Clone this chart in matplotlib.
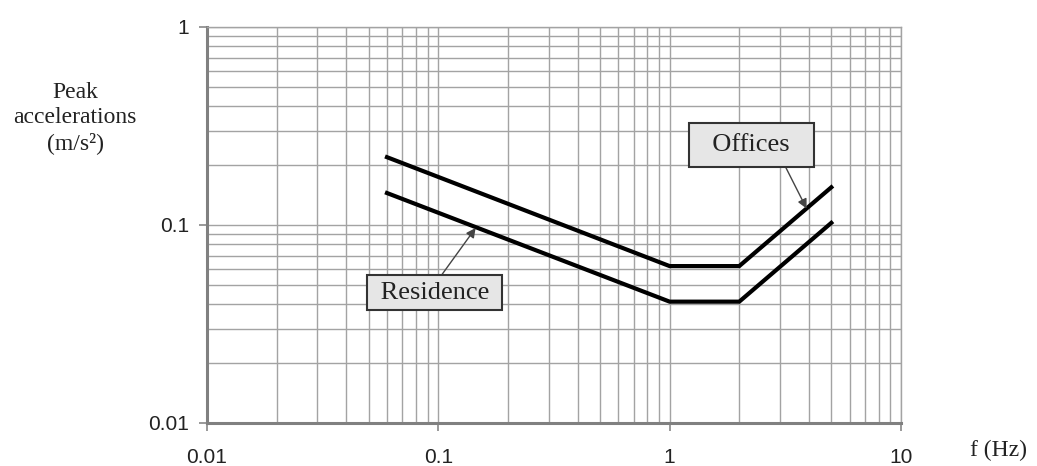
import numpy as np
import matplotlib
matplotlib.use("Agg")
import matplotlib.pyplot as plt
from matplotlib.ticker import LogLocator, NullFormatter

# data
freq = [0.06, 1.0, 2.0, 5.0]
offices = [0.22, 0.062, 0.062, 0.155]
residence = [0.145, 0.041, 0.041, 0.1025]

xticks = [0.01, 0.1, 1, 10]
xticklabels = ["0.01", "0.1", "1", "10"]
yticks = [0.01, 0.1, 1]
yticklabels = ["0.01", "0.1", "1"]

# label boxes: text, box centre, arrow tip
labels = ["  Offices  ", " Residence "]
label_xy = [(2.25, 0.2536), (0.0966, 0.0454)]
arrow_xy = [(3.91, 0.121), (0.145, 0.0966)]
label_pad = [0.4, 0.25]
arrow_rel = [(0.76, 0.17), (0.515, 1.0)]

serif = "Liberation Serif"
sans = "Liberation Sans"
grid_c = "#a3a3a3"

fig = plt.figure(figsize=(10.37, 4.66), dpi=100)
ax = fig.add_axes([0.1996, 0.0923, 0.6692, 0.8498])

ax.set_xscale("log")
ax.set_yscale("log")
ax.set_xlim(0.01, 10)
ax.set_ylim(0.01, 1)

ax.plot(freq, offices, color="black", lw=3, solid_joinstyle="miter", zorder=3)
ax.plot(freq, residence, color="black", lw=3, solid_joinstyle="miter", zorder=3)

ax.xaxis.set_minor_locator(LogLocator(base=10, subs=np.arange(2, 10)))
ax.yaxis.set_minor_locator(LogLocator(base=10, subs=np.arange(2, 10)))
ax.xaxis.set_minor_formatter(NullFormatter())
ax.yaxis.set_minor_formatter(NullFormatter())
ax.set_xticks(xticks)
ax.set_xticklabels(xticklabels)
ax.set_yticks(yticks)
ax.set_yticklabels(yticklabels)

ax.grid(True, which="both", color=grid_c, lw=1)
ax.tick_params(which="minor", length=0)
ax.tick_params(which="major", length=6, width=1.2, color="#888888",
               labelsize=15, direction="out")
ax.tick_params(axis="x", pad=12)
ax.tick_params(axis="y", pad=7)
for lab in ax.get_xticklabels() + ax.get_yticklabels():
    lab.set_fontfamily(sans)
    lab.set_color("#222222")

for side in ["top", "right"]:
    ax.spines[side].set_color(grid_c)
    ax.spines[side].set_linewidth(1)
for side in ["left", "bottom"]:
    ax.spines[side].set_color("#808080")
    ax.spines[side].set_linewidth(2.2)

for txt, xy, tip, pad, rel in zip(labels, label_xy, arrow_xy, label_pad, arrow_rel):
    ax.annotate(txt, xy=tip, xytext=xy, ha="center", va="center",
                fontsize=19, family=serif, color="#222222", zorder=5,
                bbox=dict(boxstyle="square,pad=%s" % pad, fc="#e6e6e6",
                          ec="#333333", lw=1.5),
                arrowprops=dict(arrowstyle="-|>", color="#444444", lw=1,
                                mutation_scale=14, relpos=rel,
                                patchA=None, shrinkA=0, shrinkB=0))

fig.text(75 / 1037, 1 - 118 / 466, "Peak\naccelerations\n(m/s\u00b2)",
         ha="center", va="center", fontsize=17, family=serif,
         color="#222222", linespacing=1.25)
fig.text(998 / 1037, 1 - 450 / 466, "f (Hz)", ha="center", va="center",
         fontsize=17, family=serif, color="#222222")

fig.savefig("out.png", dpi=100)
